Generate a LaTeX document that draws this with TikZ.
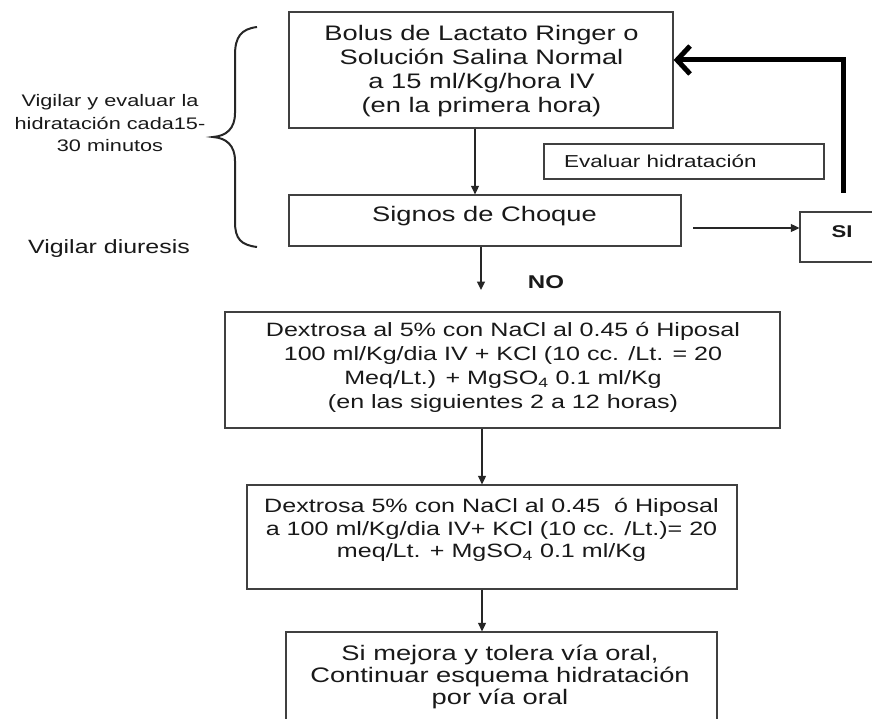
\documentclass[tikz,border=0pt]{standalone}
\usepackage{fontspec}
\setmainfont{Liberation Sans}
\usetikzlibrary{arrows.meta,fit}
\newcommand\sx[1]{\scalebox{1.3}[1]{#1}}
\begin{document}
\begin{tikzpicture}[x=1pt,y=-1pt,
  box/.style={draw=black!75, line width=1.3pt, inner sep=0pt, fill=none},
  txt/.style={align=center, inner sep=0pt, text=black!90},
  arr/.style={draw=black!85, line width=1.3pt, -{Triangle[length=8.5pt,width=8pt]}},
  bigarr/.style={draw=black, line width=5pt, -{Straight Barb[length=13pt,width=28pt]}},
  fA/.style={font=\fontsize{21}{24}\selectfont},
  fD/.style={font=\fontsize{19.3}{24}\selectfont},
  fE/.style={font=\fontsize{19.3}{22.5}\selectfont},
  fF/.style={font=\fontsize{21}{22}\selectfont},
  fL/.style={font=\fontsize{16.7}{22.5}\selectfont}]
\clip (0,0) rectangle (872,719);
\fill[white] (0,0) rectangle (872,719);

% boxes
\node[box, fit={(289,12) (673,128)}] (bolus) {};
\node[box, fit={(289,195) (681,246)}] (signos) {};
\node[box, fit={(544,144) (824,179)}] (evalbox) {};
\node[box, fit={(800,212) (885,262)}] (si) {};
\node[box, fit={(225,312) (780,428)}] (dex1) {};
\node[box, fit={(247,485) (737,589)}] (dex2) {};
\node[box, fit={(286,632) (717,730)}] (oral) {};

% texts
\node[txt, fA] (tbolus) at (481.5,71) {\sx{Bolus de Lactato Ringer o}\\\sx{Solución Salina Normal}\\\sx{a 15 ml/Kg/hora IV}\\\sx{(en la primera hora)}};
\node[txt, fA, anchor=base] (tsignos) at (484.5,222) {\sx{Signos de Choque}};
\node[txt, font=\fontsize{17.3}{20}\selectfont, anchor=base] (teval) at (660.5,168) {\sx{Evaluar hidratación}};
\node[txt, font=\fontsize{17}{20}\selectfont\bfseries, anchor=base] (tsi) at (842,238) {\sx{SI}};
\node[txt, font=\fontsize{18.5}{20}\selectfont\bfseries, anchor=base] (tno) at (546,288) {\sx{NO}};
\node[txt, fL] (tleft) at (110,123.5) {\sx{Vigilar y evaluar la}\\\sx{hidratación cada15-}\\\sx{30 minutos}};
\node[txt, font=\fontsize{19.2}{22}\selectfont, anchor=base] (tdiur) at (109,254) {\sx{Vigilar diuresis}};
\node[txt, fD] (tdex1) at (503,367) {\sx{Dextrosa al 5\% con NaCl al 0.45 ó Hiposal}\\\sx{100 ml/Kg/dia IV + KCl (10 cc. /Lt. = 20}\\\sx{Meq/Lt.) + MgSO\textsubscript{4} 0.1 ml/Kg}\\\sx{(en las siguientes 2 a 12 horas)}};
\node[txt, fE] (tdex2) at (491.5,530) {\sx{Dextrosa 5\% con NaCl al 0.45\ \ ó Hiposal}\\\sx{a 100 ml/Kg/dia IV+ KCl (10 cc. /Lt.)= 20}\\\sx{meq/Lt. + MgSO\textsubscript{4} 0.1 ml/Kg}};
\node[txt, fF] (toral) at (500,677) {\sx{Si mejora y tolera vía oral,}\\\sx{Continuar esquema hidratación}\\\sx{por vía oral}};

% brace
\draw[line width=2pt, black!85] (257,27) .. controls (241,29) and (235,37) .. (235,55) -- (235,113) .. controls (235,129) and (226,136) .. (213,137) .. controls (226,138) and (235,145) .. (235,161) -- (235,222) .. controls (235,239) and (241,245) .. (257,247);

% connectors
\coordinate (xa) at (475,0);
\draw[arr] (bolus.south -| xa) -- (signos.north -| xa);
\coordinate (s1) at (693,228);
\draw[arr] (s1) -- (s1 -| si.west);
\coordinate (up) at (843,193);
\draw[bigarr] (up) |- ([yshift=10pt]bolus.east);
\coordinate (nox) at (481,290);
\draw[arr] (signos.south -| nox) -- (nox);
\coordinate (xd) at (482,0);
\draw[arr] (dex1.south -| xd) -- (dex2.north -| xd);
\draw[arr] (dex2.south -| xd) -- (oral.north -| xd);
\end{tikzpicture}
\end{document}
